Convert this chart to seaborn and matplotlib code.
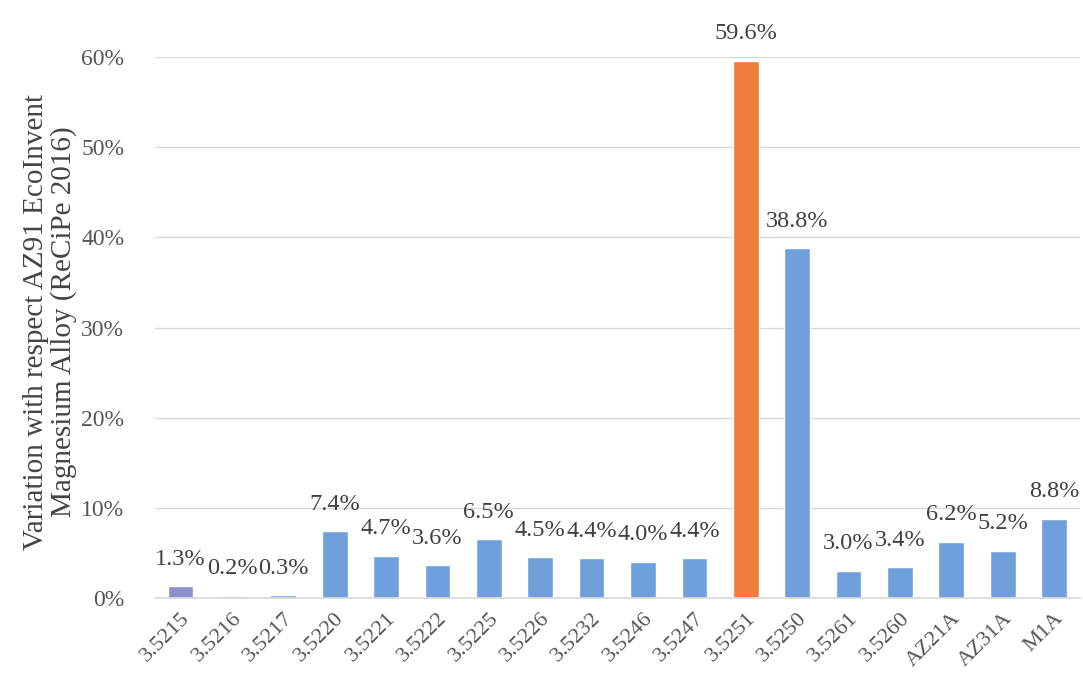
import matplotlib
matplotlib.use("Agg")
import matplotlib.pyplot as plt
import seaborn as sns
import pandas as pd

categories = ["3.5215", "3.5216", "3.5217", "3.5220", "3.5221", "3.5222", "3.5225",
              "3.5226", "3.5232", "3.5246", "3.5247", "3.5251", "3.5250", "3.5261",
              "3.5260", "AZ21A", "AZ31A", "M1A"]
values = [1.3, 0.2, 0.3, 7.4, 4.7, 3.6, 6.5, 4.5, 4.4, 4.0, 4.4, 59.6, 38.8, 3.0, 3.4, 6.2, 5.2, 8.8]
y_ticks = [0, 10, 20, 30, 40, 50, 60]
y_label = "Variation with respect AZ91 EcoInvent\nMagnesium Alloy (ReCiPe 2016)"

blue = "#70a0dc"
orange = "#ee7d3e"
colors = [orange if c == "3.5251" else blue for c in categories]
colors[0] = "#8a90c9"

sns.set_theme(style="white")
plt.rcParams["font.family"] = ["Liberation Serif", "DejaVu Serif"]

df = pd.DataFrame({"cat": categories, "val": values})
fig = plt.figure(figsize=(10.83, 6.81), dpi=100)
ax = fig.add_axes([0.143, 0.122, 0.854, 0.794])

sns.barplot(data=df, x="cat", y="val", hue="cat", palette=colors, legend=False,
            width=0.5, ax=ax, saturation=1)

ax.set_ylim(0, 60)
ax.set_xlim(-0.5, len(categories) - 0.5)
ax.set_yticks(y_ticks)
ax.set_yticklabels([f"{t}%" for t in y_ticks], fontsize=17, color="#555555")
ax.yaxis.grid(True, color="#d9d9d9", linewidth=1)
ax.set_axisbelow(True)
for s in ["top", "right", "left"]:
    ax.spines[s].set_visible(False)
ax.spines["bottom"].set_color("#d9d9d9")
ax.tick_params(axis="y", length=0, pad=22)
ax.tick_params(axis="x", length=0, pad=8)
ax.set_xticks(range(len(categories)))
ax.set_xticklabels(categories, rotation=45, ha="right", rotation_mode="anchor",
                   fontsize=16, color="#555555")
ax.set_xlabel("")
ax.set_ylabel(y_label, fontsize=21, color="#444444", labelpad=6, linespacing=1.05)
ax.yaxis.set_label_coords(-0.084, 0.51)

for i, v in enumerate(values):
    ax.annotate(f"{v:.1f}%", (i, v), xytext=(0, 12), textcoords="offset points",
                ha="center", va="bottom", fontsize=17.5, color="#404040",
                annotation_clip=False)

fig.savefig("out.png", dpi=100)
